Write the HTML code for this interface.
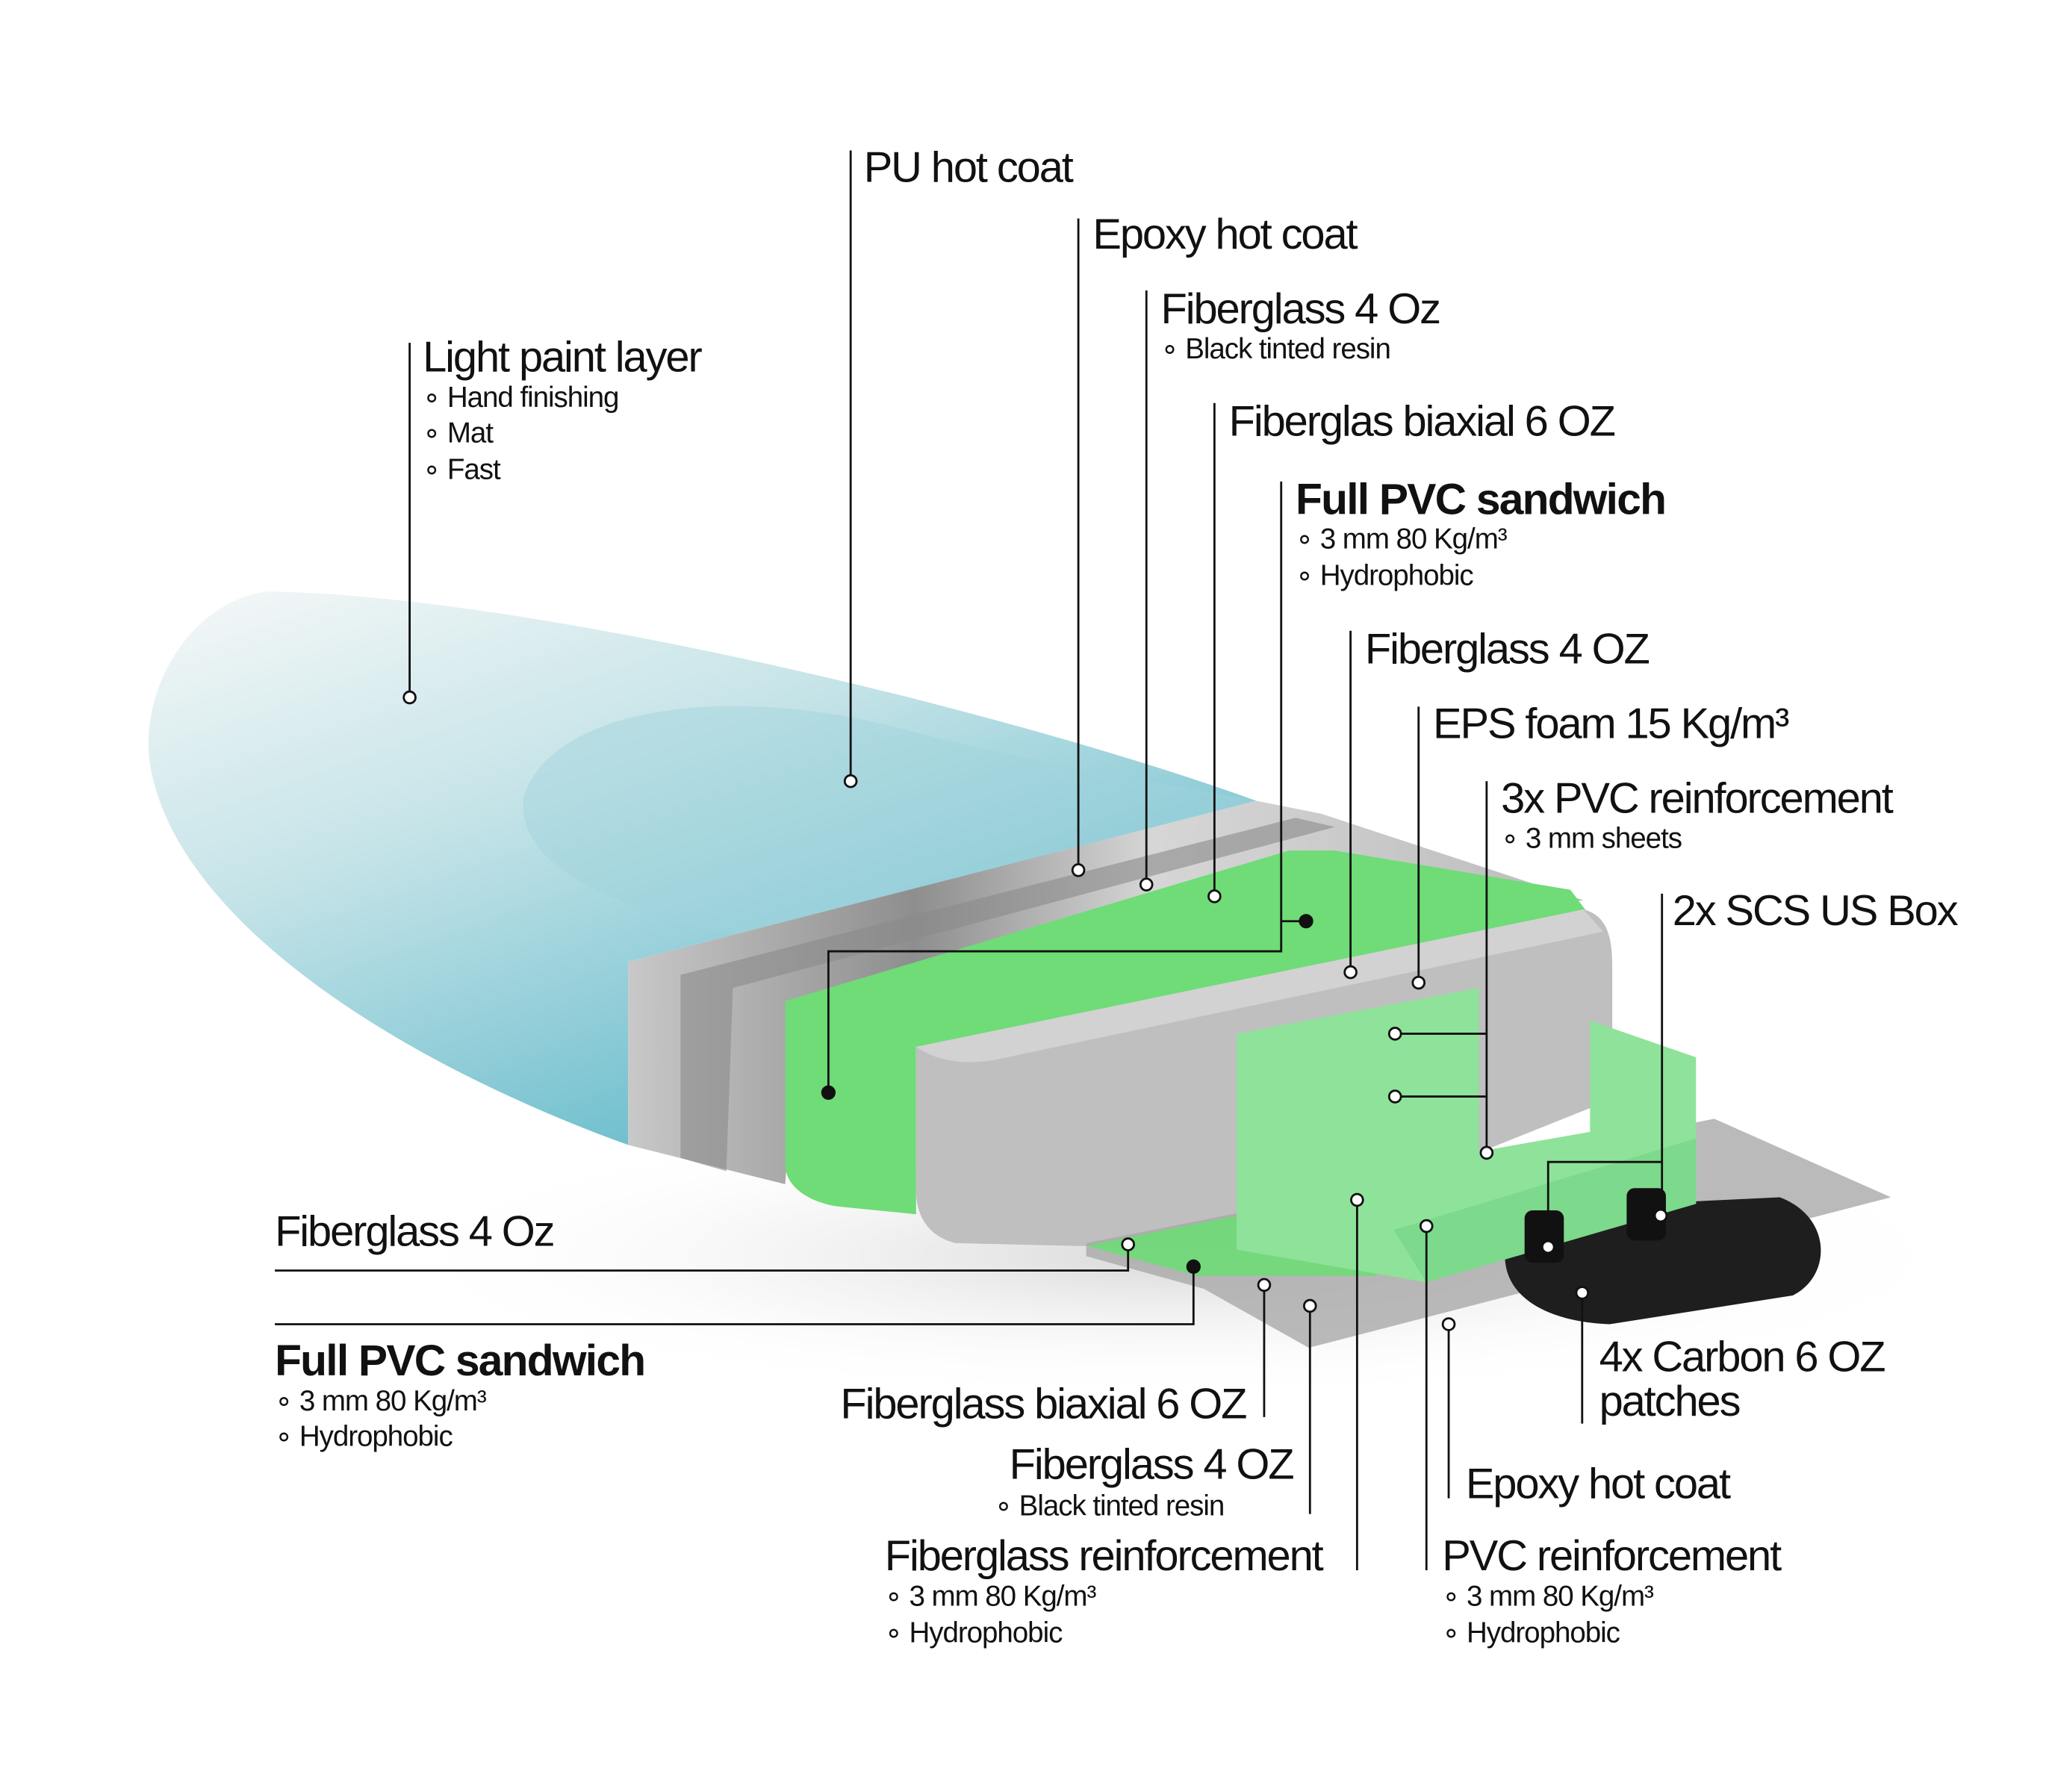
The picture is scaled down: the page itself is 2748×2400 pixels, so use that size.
<!DOCTYPE html>
<html><head><meta charset="utf-8"><style>
html,body{margin:0;padding:0;background:#fff;}
svg{display:block;}
text{font-family:"Liberation Sans",sans-serif;fill:#111;}
.h{font-size:33px;letter-spacing:-1.2px;}
.b{font-size:33.5px;font-weight:bold;letter-spacing:-1px;}
.s{font-size:22px;letter-spacing:-0.6px;}
.ln{stroke:#111;stroke-width:1.6;fill:none;}
.d{fill:#fff;stroke:#111;stroke-width:1.6;}
.f{fill:#111;}
</style></head><body>
<svg width="2748" height="2400" viewBox="0 0 1568 1369.5" xmlns="http://www.w3.org/2000/svg">
<defs>
<linearGradient id="bd" x1="0" y1="0" x2="0.7" y2="1">
<stop offset="0" stop-color="#f6f8f8"/><stop offset="0.4" stop-color="#c6e4e8"/><stop offset="1" stop-color="#5bb6c8"/></linearGradient>
<linearGradient id="gr" x1="0" y1="0" x2="1" y2="0">
<stop offset="0" stop-color="#c8c8c8"/><stop offset="0.3" stop-color="#8e8e8e"/><stop offset="0.55" stop-color="#d6d6d6"/><stop offset="1" stop-color="#bcbcbc"/></linearGradient>
<radialGradient id="sh" cx="0.5" cy="0.5" r="0.5"><stop offset="0" stop-color="#d8d8d8"/><stop offset="1" stop-color="#fff" stop-opacity="0"/></radialGradient>
</defs>
<rect width="1568" height="1369.5" fill="#fff"/>
<ellipse cx="900" cy="960" rx="620" ry="110" fill="url(#sh)"/>
<path d="M205,452 C150,458 108,520 114,580 C130,700 300,810 480,875 L480,735 L960,612 C760,540 400,455 205,452 Z" fill="url(#bd)"/>
<path d="M400,610 C420,540 560,520 700,560 C820,590 900,600 960,612 L560,715 C460,690 395,660 400,610Z" fill="#9fd3dc" opacity="0.45"/>
<path d="M480,735 L960,612 L1010,622 L1210,688 L610,765 L600,905 L480,875 Z" fill="url(#gr)"/>
<path d="M520,745 L990,625 L1020,632 L560,755 L555,895 L520,885Z" fill="#8a8a8a" opacity="0.6"/>
<path d="M600,765 L985,650 L1020,650 L1200,680 L1215,700 L700,800 L700,928 L640,922 C615,918 600,905 600,890 Z" fill="#6fdc77"/>
<path d="M700,800 L1210,695 C1230,700 1232,720 1232,740 L1232,840 L945,955 L730,950 C710,945 700,930 700,910 Z" fill="#bfbfbf"/>
<path d="M700,800 L1210,695 L1225,712 L760,810 C730,815 712,808 700,800Z" fill="#d2d2d2"/>
<path d="M830,950 L1310,855 L1445,915 L1000,1030 L920,985 L830,960Z" fill="#a9a9a9" opacity="0.8"/>
<path d="M1150,925 L1360,915 C1400,930 1400,975 1370,990 L1230,1012 C1180,1010 1150,990 1150,960Z" fill="#1e1e1e"/>
<path d="M830,952 L940,930 L1160,925 L1050,975 L915,975 Z" fill="#6fdc77" opacity="0.9"/>
<path d="M945,790 L1130,755 L1130,880 L1215,865 L1215,780 L1296,808 L1296,920 L1090,980 L945,955 Z" fill="#8fe29a"/>
<path d="M1065,940 L1296,870 L1296,920 L1090,980Z" fill="#7dd98b"/>
<rect x="1165" y="925" width="30" height="40" rx="6" fill="#111"/>
<rect x="1243" y="908" width="30" height="40" rx="6" fill="#111"/>
<g class="ln">
<path d="M313,262 V533"/><path d="M650,115 V597"/><path d="M824,167 V665"/><path d="M876,222 V676"/><path d="M928,308 V685"/>
<path d="M979,368 V727 H633 V835"/><path d="M979,704 H998"/>
<path d="M1032,482 V743"/><path d="M1084,540 V751"/><path d="M1136,597 V881"/>
<path d="M1066,790 H1136"/><path d="M1066,838 H1136"/>
<path d="M1270,683 V929"/><path d="M1183,953 V888 H1270"/>
<path d="M210,971 H862 V951"/><path d="M210,1012 H912 V968"/>
<path d="M966,982 V1083"/><path d="M1001,998 V1157"/><path d="M1037,917 V1200"/>
<path d="M1107,1012 V1145"/><path d="M1090,937 V1200"/><path d="M1209,988 V1088"/>
</g>
<g class="d">
<circle cx="313" cy="533" r="4.5"/><circle cx="650" cy="597" r="4.5"/><circle cx="824" cy="665" r="4.5"/><circle cx="876" cy="676" r="4.5"/><circle cx="928" cy="685" r="4.5"/>
<circle cx="1032" cy="743" r="4.5"/><circle cx="1084" cy="751" r="4.5"/><circle cx="1066" cy="790" r="4.5"/><circle cx="1066" cy="838" r="4.5"/><circle cx="1136" cy="881" r="4.5"/>
<circle cx="1269" cy="929" r="4.5"/><circle cx="1183" cy="953" r="4.5"/><circle cx="862" cy="951" r="4.5"/>
<circle cx="966" cy="982" r="4.5"/><circle cx="1001" cy="998" r="4.5"/><circle cx="1037" cy="917" r="4.5"/><circle cx="1107" cy="1012" r="4.5"/><circle cx="1090" cy="937" r="4.5"/><circle cx="1209" cy="988" r="4.5"/>
</g>
<g class="f"><circle cx="998" cy="704" r="5.5"/><circle cx="633" cy="835" r="5.5"/><circle cx="912" cy="968" r="5.5"/></g>
<text class="h" x="323" y="284">Light paint layer</text>
<text class="s" x="323" y="311">∘  Hand finishing</text>
<text class="s" x="323" y="338">∘  Mat</text>
<text class="s" x="323" y="366">∘  Fast</text>
<text class="h" x="660" y="139">PU hot coat</text>
<text class="h" x="835" y="190">Epoxy hot coat</text>
<text class="h" x="887" y="247">Fiberglass 4 Oz</text>
<text class="s" x="887" y="274">∘  Black tinted resin</text>
<text class="h" x="939" y="333">Fiberglas biaxial 6 OZ</text>
<text class="b" x="990" y="393">Full PVC sandwich</text>
<text class="s" x="990" y="419">∘  3 mm 80 Kg/m³</text>
<text class="s" x="990" y="447">∘  Hydrophobic</text>
<text class="h" x="1043" y="507">Fiberglass 4 OZ</text>
<text class="h" x="1095" y="564">EPS foam 15 Kg/m³</text>
<text class="h" x="1147" y="621">3x PVC reinforcement</text>
<text class="s" x="1147" y="648">∘  3 mm sheets</text>
<text class="h" x="1278" y="707">2x SCS US Box</text>
<text class="h" x="210" y="952">Fiberglass 4 Oz</text>
<text class="b" x="210" y="1051">Full PVC sandwich</text>
<text class="s" x="210" y="1078">∘  3 mm 80 Kg/m³</text>
<text class="s" x="210" y="1105">∘  Hydrophobic</text>
<text class="h" x="952" y="1084" text-anchor="end">Fiberglass biaxial 6 OZ</text>
<text class="h" x="988" y="1130" text-anchor="end">Fiberglass 4 OZ</text>
<text class="s" x="760" y="1158">∘  Black tinted resin</text>
<text class="h" x="676" y="1200">Fiberglass reinforcement</text>
<text class="s" x="676" y="1227">∘  3 mm 80 Kg/m³</text>
<text class="s" x="676" y="1255">∘  Hydrophobic</text>
<text class="h" x="1222" y="1048">4x Carbon 6 OZ</text>
<text class="h" x="1222" y="1082">patches</text>
<text class="h" x="1120" y="1145">Epoxy hot coat</text>
<text class="h" x="1102" y="1200">PVC reinforcement</text>
<text class="s" x="1102" y="1227">∘  3 mm 80 Kg/m³</text>
<text class="s" x="1102" y="1255">∘  Hydrophobic</text>
</svg>
</body></html>
